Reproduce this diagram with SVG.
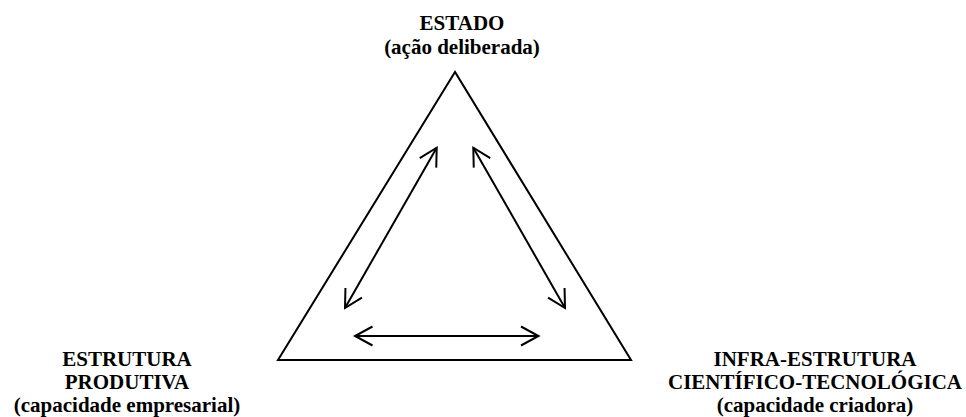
<svg xmlns="http://www.w3.org/2000/svg" width="966" height="417" viewBox="0 0 966 417">
<style>
text{font-family:'Liberation Serif','Times New Roman',Times,serif;font-size:21px;font-weight:700;fill:#000;text-anchor:middle}
.c{fill:none;stroke:#000;stroke-width:2}
</style>
<defs>
<marker id="ah" markerUnits="userSpaceOnUse" markerWidth="30" markerHeight="30" viewBox="-25 -15 30 30" refX="0" refY="0" orient="auto-start-reverse">
<path d="M -17.5 -9.5 L 0 0 L -17.5 9.5" fill="none" stroke="#000" stroke-width="2"/>
</marker>
</defs>
<rect width="966" height="417" fill="#fff"/>
<g id="triangle">
<polygon points="455,72 278,360 631,360" fill="none" stroke="#000" stroke-width="2" stroke-linejoin="miter"/>
</g>
<g id="estado" font-family="Liberation Serif, serif">
<text x="462" y="30">ESTADO</text>
<text x="462" y="54">(ação deliberada)</text>
</g>
<g id="estrutura-produtiva" font-family="Liberation Serif, serif">
<text x="127" y="366">ESTRUTURA</text>
<text x="127" y="389">PRODUTIVA</text>
<text x="127" y="412">(capacidade empresarial)</text>
</g>
<g id="infra-estrutura" font-family="Liberation Serif, serif">
<text x="815" y="366">INFRA-ESTRUTURA</text>
<text x="815" y="389">CIENTÍFICO-TECNOLÓGICA</text>
<text x="815" y="412">(capacidade criadora)</text>
</g>
<g id="connectors">
<line class="c" x1="345" y1="308" x2="436.7" y2="147.7" marker-start="url(#ah)" marker-end="url(#ah)"/>
<line class="c" x1="473.3" y1="147.7" x2="565" y2="308" marker-start="url(#ah)" marker-end="url(#ah)"/>
<line class="c" x1="355" y1="336" x2="538.5" y2="336" marker-start="url(#ah)" marker-end="url(#ah)"/>
</g>
</svg>
